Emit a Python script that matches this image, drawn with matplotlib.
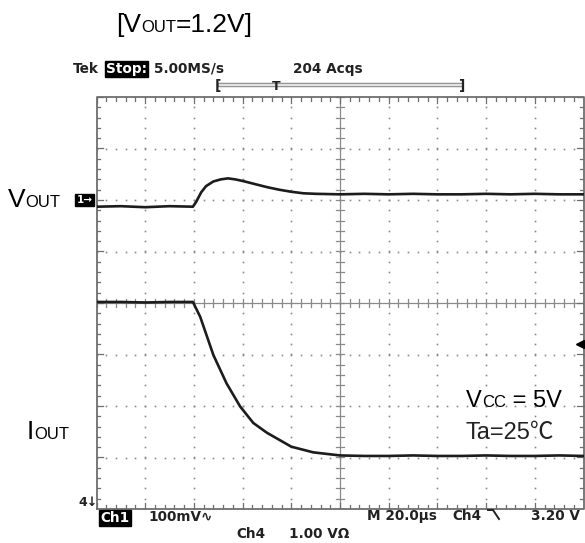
import matplotlib
matplotlib.use("Agg")
import numpy as np
import matplotlib.pyplot as plt
from matplotlib.lines import Line2D

vout_x = [0, 0.5, 1.0, 1.5, 1.98, 2.05, 2.15, 2.25, 2.4, 2.55, 2.7, 2.85, 3.0,
          3.25, 3.5, 3.75, 4.0, 4.25, 4.5, 5, 5.5, 6, 6.5, 7, 7.5, 8, 8.5, 9, 9.5, 10]
vout_y = [1.87, 1.88, 1.86, 1.88, 1.87, 1.97, 2.15, 2.27, 2.36, 2.40, 2.42, 2.40, 2.37,
          2.31, 2.25, 2.20, 2.16, 2.13, 2.12, 2.11, 2.12, 2.11, 2.12, 2.11, 2.11, 2.12, 2.11, 2.12, 2.11, 2.11]

iout_x = [0, 0.5, 1.0, 1.5, 1.98, 2.13, 2.4, 2.67, 2.95, 3.22, 3.5, 4.0, 4.45,
          5.0, 5.5, 6, 6.5, 7, 7.5, 8, 8.5, 9, 9.5, 10]
iout_y = [0.02, 0.02, 0.01, 0.02, 0.02, -0.27, -1.01, -1.56, -2.01, -2.33, -2.52, -2.79, -2.90,
          -2.96, -2.97, -2.97, -2.96, -2.97, -2.97, -2.96, -2.97, -2.97, -2.96, -2.97]

ch1_ref = 2.0
trigger_level = -0.8

W, H = 585, 543
fig = plt.figure(figsize=(W / 100, H / 100), dpi=100)
renderer = fig.canvas.get_renderer()

def fx(px):
    return px / W

def fy(py):
    return 1 - py / H

# Raster 96.5..583.5 px, 97..509 px
ax = fig.add_axes([fx(96.5), fy(509), 487 / W, 412 / H])
ax.set_xlim(0, 10)
ax.set_ylim(-4, 4)
ax.axis("off")

grid_col = "#8a8a8a"
steps_y = np.arange(-4, 4.01, 0.2)
steps_x = np.arange(0, 10.01, 0.2)
for i in range(1, 10):
    if i != 5:
        ax.plot([i] * len(steps_y), steps_y, ls="none", marker="s", ms=1.2, color=grid_col, mew=0)
for j in range(-3, 4):
    if j != 0:
        ax.plot(steps_x, [j] * len(steps_x), ls="none", marker="s", ms=1.2, color=grid_col, mew=0)

# Mittelachsen mit Teilstrichen
ax.plot([5, 5], [-4, 4], color=grid_col, lw=0.9)
ax.plot([0, 10], [0, 0], color=grid_col, lw=0.9)
tx, ty = 0.08, 0.078
for v in steps_y:
    ax.plot([5 - tx, 5 + tx], [v, v], color=grid_col, lw=0.9)
for v in steps_x:
    ax.plot([v, v], [-ty, ty], color=grid_col, lw=0.9)

# Rahmen mit Teilstrichen nach innen
ax.plot([0, 10, 10, 0, 0], [-4, -4, 4, 4, -4], color="#6e6e6e", lw=1.3, clip_on=False)
for v in steps_x:
    k = 1.6 if abs(v - round(v)) < 1e-6 else 1.0
    ax.plot([v, v], [4, 4 - ty * k], color="#6e6e6e", lw=0.9)
    ax.plot([v, v], [-4, -4 + ty * k], color="#6e6e6e", lw=0.9)
for v in steps_y:
    k = 1.6 if abs(v - round(v)) < 1e-6 else 1.0
    ax.plot([0, tx * k], [v, v], color="#6e6e6e", lw=0.9)
    ax.plot([10, 10 - tx * k], [v, v], color="#6e6e6e", lw=0.9)

# Kurven
ax.plot(vout_x, vout_y, color="#1c1c1c", lw=1.9, solid_joinstyle="round")
ax.plot(iout_x, iout_y, color="#1c1c1c", lw=1.9, solid_joinstyle="round")

# Triggerpegel-Pfeil rechts
ax.plot([9.93], [trigger_level], marker="<", ms=6, color="black", clip_on=False)

# Kanal-1-Marke
ax.annotate("1\u2192", xy=(0, ch1_ref), xytext=(-12, 0), textcoords="offset pixels",
            ha="center", va="center", color="white", fontsize=7.5, fontweight="bold",
            annotation_clip=False,
            bbox=dict(boxstyle="square,pad=0.12", fc="black", ec="black"))

sans = ["Liberation Sans", "Noto Sans CJK JP", "DejaVu Sans"]

def rich(x, y, parts, color="black"):
    # Text aus Stücken mit verschiedenen Größen auf gemeinsamer Grundlinie
    for s, size in parts:
        t = fig.text(fx(x), fy(y), s, fontsize=size, ha="left", va="baseline",
                     family=sans, color=color)
        x += t.get_window_extent(renderer).width

rich(116, 32, [("[V", 19), ("OUT", 12), ("=1.2V]", 19)])
rich(8, 207, [("V", 19), ("OUT", 12)])
rich(27, 439, [("I", 19), ("OUT", 12)])
rich(466, 407, [("V", 17), ("CC", 12), (" = 5V", 17)])
rich(466, 439, [("Ta=25\u2103", 17)], color="#222222")

# Tek-Kopfzeile
tek = dict(family="DejaVu Sans", fontweight="bold", fontsize=9.8, va="center", ha="left", color="#222222")
fig.text(fx(73), fy(69), "Tek", **tek)
fig.text(fx(106), fy(69), "Stop:", **{**tek, "color": "white"},
         bbox=dict(boxstyle="square,pad=0.1", fc="black", ec="black"))
fig.text(fx(154), fy(69), "5.00MS/s", **tek)
fig.text(fx(293), fy(69), "204 Acqs", **tek)

fig.add_artist(Line2D([fx(220), fx(461)], [fy(85), fy(85)], color="#8c8c8c", lw=3.2))
fig.add_artist(Line2D([fx(220), fx(461)], [fy(85), fy(85)], color="#e2e2e2", lw=1.6))
fig.text(fx(218), fy(86), "[", **{**tek, "ha": "center", "fontsize": 10})
fig.text(fx(462), fy(86), "]", **{**tek, "ha": "center", "fontsize": 10})
fig.text(fx(276), fy(86), "T", **{**tek, "ha": "center", "fontsize": 9})

# Fußzeile
fig.text(fx(78), fy(502), "4\u2193", **{**tek, "fontsize": 9})
fig.text(fx(100), fy(518), "Ch1", **{**tek, "color": "white"},
         bbox=dict(boxstyle="square,pad=0.1", fc="black", ec="black"))
fig.text(fx(148), fy(517), "100mV\u223f", **tek)
fig.text(fx(367), fy(516), "M 20.0\u00b5s", **tek)
fig.text(fx(452), fy(516), "Ch4", **tek)
fig.add_artist(Line2D([fx(488), fx(493), fx(499)], [fy(510), fy(510), fy(519)], color="#222222", lw=1.4))
fig.text(fx(531), fy(516), "3.20 V", **tek)
fig.text(fx(236), fy(534), "Ch4", **tek)
fig.text(fx(289), fy(534), "1.00 V\u03a9", **tek)

fig.savefig("out.png", dpi=100)
